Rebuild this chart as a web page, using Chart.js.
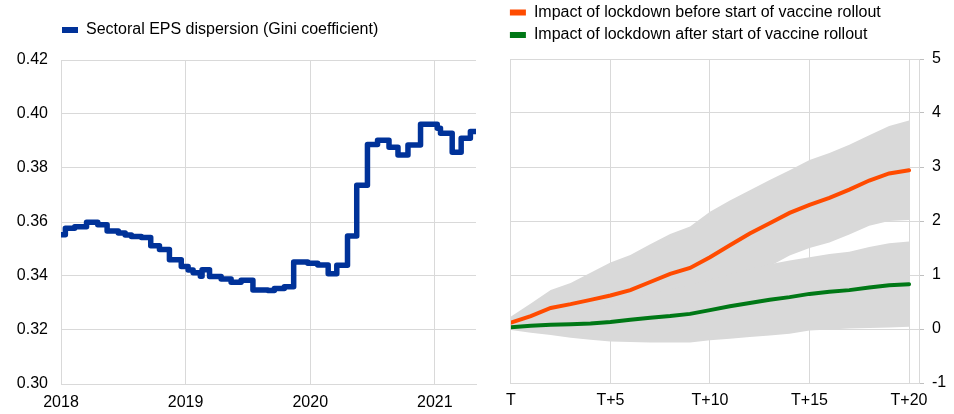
<!DOCTYPE html>
<html>
<head>
<meta charset="utf-8">
<script src="https://cdn.jsdelivr.net/npm/chart.js@4.4.0/dist/chart.umd.min.js"></script>
<style>
  body { margin: 0; background: #fff; }
  #wrap { position: relative; width: 954px; height: 414px; }
  #giniChart { position: absolute; left: 0; top: 0; }
  #lockdownChart { position: absolute; left: 498px; top: 0; }
</style>
</head>
<body>
<div id="wrap">
  <canvas id="giniChart" width="480" height="414"></canvas>
  <canvas id="lockdownChart" width="456" height="414"></canvas>
</div>
<script>
// left panel - sectoral EPS dispersion, value changes at each date (decimal year)
const giniDates = [
  2018.000, 2018.035, 2018.110, 2018.205, 2018.295, 2018.370, 2018.460, 2018.515,
  2018.565, 2018.645, 2018.720, 2018.790, 2018.870, 2018.965, 2019.020, 2019.060,
  2019.118, 2019.132, 2019.192, 2019.285, 2019.365, 2019.445, 2019.540, 2019.660,
  2019.712, 2019.792, 2019.867, 2019.980, 2020.060, 2020.144, 2020.213, 2020.299,
  2020.373, 2020.459, 2020.540, 2020.632, 2020.704, 2020.784, 2020.885, 2021.019,
  2021.045, 2021.139, 2021.211, 2021.285, 2021.325
];
const giniValues = [
  0.3553, 0.3577, 0.3582, 0.3599, 0.3590, 0.3567, 0.3559, 0.3552,
  0.3546, 0.3543, 0.3512, 0.3498, 0.3460, 0.3435, 0.3422, 0.3412,
  0.3399, 0.3423, 0.3398, 0.3389, 0.3377, 0.3384, 0.3348, 0.3346,
  0.3354, 0.3360, 0.3452, 0.3447, 0.3441, 0.3408, 0.3440, 0.3548,
  0.3736, 0.3887, 0.3903, 0.3877, 0.3848, 0.3885, 0.3962, 0.3947,
  0.3929, 0.3858, 0.3910, 0.3935, 0.3935
];
const yearTicks = ['2018', '2019', '2020', '2021'];

// right panel - impact of lockdown, T to T+20
const horizon = [0, 1, 2, 3, 4, 5, 6, 7, 8, 9, 10, 11, 12, 13, 14, 15, 16, 17, 18, 19, 20];
const horizonTicks = ['T', 'T+5', 'T+10', 'T+15', 'T+20'];
const beforeVaccine = [0.12, 0.24, 0.39, 0.46, 0.54, 0.62, 0.72, 0.87, 1.02, 1.13, 1.33, 1.55, 1.77, 1.96, 2.15, 2.30, 2.43, 2.58, 2.75, 2.88, 2.94];
const beforeHigh = [0.23, 0.47, 0.72, 0.85, 1.04, 1.23, 1.37, 1.57, 1.76, 1.90, 2.17, 2.38, 2.57, 2.76, 2.94, 3.13, 3.26, 3.41, 3.59, 3.76, 3.86];
const beforeLow = [0.01, 0.01, 0.06, 0.07, 0.04, 0.01, 0.07, 0.17, 0.28, 0.36, 0.49, 0.72, 0.97, 1.16, 1.36, 1.50, 1.60, 1.75, 1.91, 2.00, 2.02];
const afterVaccine = [0.03, 0.06, 0.08, 0.09, 0.10, 0.13, 0.17, 0.21, 0.24, 0.28, 0.35, 0.42, 0.48, 0.54, 0.59, 0.65, 0.69, 0.72, 0.77, 0.81, 0.83];
const afterHigh = [0.08, 0.19, 0.27, 0.34, 0.40, 0.49, 0.58, 0.67, 0.73, 0.81, 0.91, 1.02, 1.11, 1.20, 1.27, 1.33, 1.39, 1.43, 1.52, 1.59, 1.62];
const afterLow = [-0.02, -0.07, -0.11, -0.16, -0.20, -0.23, -0.24, -0.25, -0.25, -0.25, -0.21, -0.18, -0.15, -0.12, -0.09, -0.03, -0.01, 0.01, 0.02, 0.03, 0.04];

const gridColour = '#d9d9d9';
const bandColour = '#d9d9d9';

Chart.defaults.font.family = "'Liberation Sans', Arial, sans-serif";
Chart.defaults.font.size = 16;
Chart.defaults.color = '#000';
Chart.defaults.animation = false;

// plain rectangles in the legend, no border round them, bands left out
function legendBoxes(chart) {
  return chart.data.datasets
    .map((ds, i) => ({
      text: ds.label,
      fillStyle: ds.borderColor,
      strokeStyle: ds.borderColor,
      lineWidth: 0,
      hidden: false,
      datasetIndex: i
    }))
    .filter((item) => item.text);
}

// empty axis, only used to leave a gap under the legend
function spacer(size) {
  return {
    type: 'linear',
    position: 'top',
    display: true,
    grid: { display: false },
    border: { display: false },
    ticks: { display: false },
    afterFit: (scale) => { scale.height = size; }
  };
}

function drawGiniChart() {
  const ctx = document.getElementById('giniChart').getContext('2d');
  const points = giniDates.map((d, i) => ({ x: d, y: giniValues[i] }));

  new Chart(ctx, {
    type: 'line',
    data: {
      datasets: [{
        label: 'Sectoral EPS dispersion (Gini coefficient)',
        data: points,
        borderColor: '#003299',
        backgroundColor: '#003299',
        borderWidth: 5.5,
        borderJoinStyle: 'round',
        borderCapStyle: 'round',
        pointRadius: 0,
        stepped: 'before',
        xAxisID: 'x',
        yAxisID: 'y'
      }]
    },
    options: {
      responsive: false,
      layout: { padding: { left: 0, right: 4, top: 21, bottom: 0 } },
      plugins: {
        tooltip: { enabled: false },
        legend: {
          position: 'top',
          align: 'start',
          fullSize: false,
          labels: { boxWidth: 16, boxHeight: 6, padding: 1, generateLabels: legendBoxes }
        }
      },
      scales: {
        x: {
          type: 'linear',
          min: 2018,
          max: 2021.33,
          grid: { color: gridColour, drawTicks: false },
          border: { color: gridColour },
          ticks: {
            stepSize: 1,
            includeBounds: false,
            autoSkip: false,
            maxRotation: 0,
            padding: 9,
            callback: (v) => yearTicks[Math.round(v - 2018)]
          },
          afterFit: (scale) => { scale.height = 30; }
        },
        y: {
          type: 'linear',
          position: 'left',
          min: 0.30,
          max: 0.42,
          grid: { color: gridColour, drawTicks: false },
          border: { color: gridColour },
          ticks: {
            stepSize: 0.02,
            padding: 13,
            callback: (v) => v.toFixed(2)
          },
          afterFit: (scale) => { scale.width = 61; }
        },
        gap: spacer(12)
      }
    }
  });
}

function drawLockdownChart() {
  const ctx = document.getElementById('lockdownChart').getContext('2d');

  const line = (label, values, colour) => ({
    label: label,
    data: values,
    borderColor: colour,
    backgroundColor: colour,
    borderWidth: 4,
    borderCapStyle: 'round',
    pointRadius: 0,
    fill: false,
    order: 0,
    xAxisID: 'x',
    yAxisID: 'y'
  });
  const band = (values, fill, order) => ({
    data: values,
    borderWidth: 0,
    borderColor: bandColour,
    backgroundColor: bandColour,
    pointRadius: 0,
    fill: fill,
    order: order,
    xAxisID: 'x',
    yAxisID: 'y'
  });

  new Chart(ctx, {
    type: 'line',
    data: {
      labels: horizon,
      datasets: [
        line('Impact of lockdown before start of vaccine rollout', beforeVaccine, '#ff4b00'),
        line('Impact of lockdown after start of vaccine rollout', afterVaccine, '#007816'),
        band(beforeHigh, '+1', 2),
        band(beforeLow, false, 2),
        band(afterHigh, '+1', 1),
        band(afterLow, false, 1)
      ]
    },
    options: {
      responsive: false,
      // the "T" label already pushes the plot ~13px in, the legend sits just left of it
      layout: { padding: { left: 5.4, right: 0, top: -2, bottom: 0 } },
      plugins: {
        tooltip: { enabled: false },
        legend: {
          position: 'top',
          align: 'start',
          labels: { boxWidth: 16, boxHeight: 6, padding: 6.5, generateLabels: legendBoxes }
        }
      },
      scales: {
        x: {
          type: 'linear',
          min: 0,
          max: 20.5,
          grid: { color: gridColour, drawTicks: false },
          border: { color: gridColour },
          ticks: {
            stepSize: 5,
            includeBounds: false,
            autoSkip: false,
            maxRotation: 0,
            padding: 8,
            callback: (v) => horizonTicks[Math.round(v / 5)]
          },
          afterFit: (scale) => { scale.height = 31; }
        },
        y: {
          type: 'linear',
          position: 'right',
          min: -1,
          max: 5,
          grid: { color: gridColour, tickColor: '#bfbfbf', tickLength: 5 },
          border: { color: gridColour },
          ticks: { stepSize: 1, padding: 8 },
          afterFit: (scale) => { scale.width = 35; }
        },
        gap: spacer(6)
      }
    }
  });
}

document.addEventListener('DOMContentLoaded', () => {
  drawGiniChart();
  drawLockdownChart();
});
</script>
</body>
</html>
